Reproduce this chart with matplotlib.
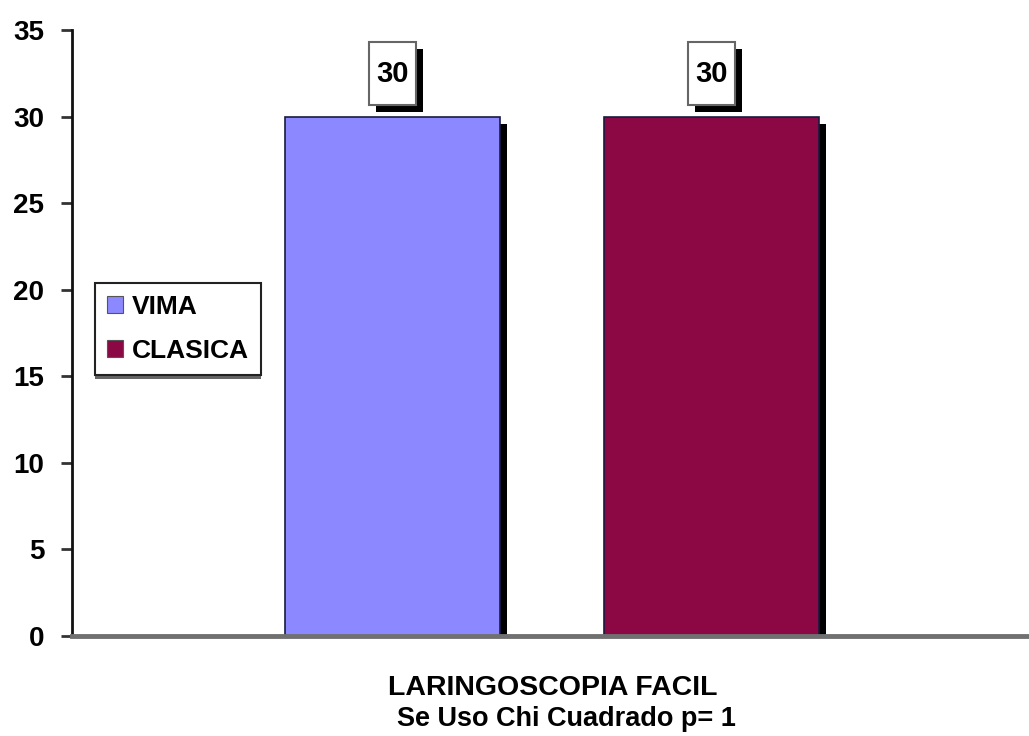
import matplotlib
matplotlib.use("Agg")
import matplotlib.pyplot as plt
import matplotlib.patheffects as pe
from matplotlib.patches import Patch
from matplotlib.path import Path

categories = ["VIMA", "CLASICA"]
values = [30, 30]
colors = ["#8c88ff", "#8b0845"]
yticks = [0, 5, 10, 15, 20, 25, 30, 35]
xlabel_main = "LARINGOSCOPIA FACIL"
xlabel_sub = "Se Uso Chi Cuadrado p= 1"

plt.rcParams["font.family"] = ["Liberation Sans", "DejaVu Sans"]
plt.rcParams["font.weight"] = "bold"

W, H = 1029, 736
fig = plt.figure(figsize=(W / 100, H / 100), dpi=100)
ax = fig.add_axes([72 / W, 1 - 636 / H, (W - 72) / W, (636 - 30) / H])


def tall_box(x0, y0, width, height, mutation_size):
    """Rectangle with a small side padding and a larger top/bottom padding."""
    px = 0.25 * mutation_size
    py = 0.6 * mutation_size
    x0, x1 = x0 - px, x0 + width + px
    y0, y1 = y0 - py, y0 + height + py
    return Path([(x0, y0), (x1, y0), (x1, y1), (x0, y1), (x0, y0)], closed=True)


positions = list(range(len(categories)))
shadow = [pe.SimplePatchShadow(offset=(5, -5), shadow_rgbFace="black", alpha=1.0), pe.Normal()]
bars = ax.bar(positions, values, width=0.674, color=colors, edgecolor="#1a1a40",
              linewidth=1.2, zorder=2)
for b in bars:
    b.set_path_effects(shadow)

for x, v in zip(positions, values):
    t = ax.annotate(f"{v}", (x, v), xytext=(0, 31), textcoords="offset points",
                    ha="center", va="center", fontsize=21, fontweight="bold",
                    bbox=dict(boxstyle=tall_box, fc="white", ec="#666666", lw=1.5),
                    zorder=5)
    t.get_bbox_patch().set_path_effects(
        [pe.SimplePatchShadow(offset=(5, -5), shadow_rgbFace="black", alpha=1.0), pe.Normal()])

ax.set_xlim(-1.005, 1.995)
ax.set_ylim(0, 35)
ax.set_yticks(yticks)
ax.set_yticklabels([str(t) for t in yticks], fontsize=20, fontweight="bold")
ax.tick_params(axis="y", direction="out", length=8, width=2, color="#333333", pad=12)
ax.set_xticks([])

for s in ["top", "right"]:
    ax.spines[s].set_visible(False)
ax.spines["left"].set_linewidth(2)
ax.spines["left"].set_color("#111111")
ax.spines["bottom"].set_linewidth(3.5)
ax.spines["bottom"].set_color("#707070")
ax.spines["bottom"].set_zorder(3)

fig.text(553 / W, 1 - 688 / H, xlabel_main, ha="center", va="center",
         fontsize=20.5, fontweight="bold")
fig.text(566 / W, 1 - 719 / H, xlabel_sub, ha="center", va="center",
         fontsize=19.5, fontweight="bold")

handles = [Patch(facecolor=c, edgecolor="#555555", linewidth=0.8) for c in colors]
leg = fig.legend(handles, categories, loc="upper left",
                 bbox_to_anchor=(95 / W, 1 - 283 / H), bbox_transform=fig.transFigure,
                 borderaxespad=0, fancybox=False, shadow=False, fontsize=19,
                 handlelength=0.6, handleheight=0.6, handletextpad=0.35,
                 labelspacing=0.75, borderpad=0.45, frameon=True, framealpha=1.0,
                 facecolor="white")
frame = leg.get_frame()
frame.set_edgecolor("#222222")
frame.set_linewidth(1.5)
frame.set_path_effects([pe.SimplePatchShadow(offset=(0, -3), shadow_rgbFace="#666666", alpha=1.0), pe.Normal()])

fig.savefig("out.png", dpi=100)
